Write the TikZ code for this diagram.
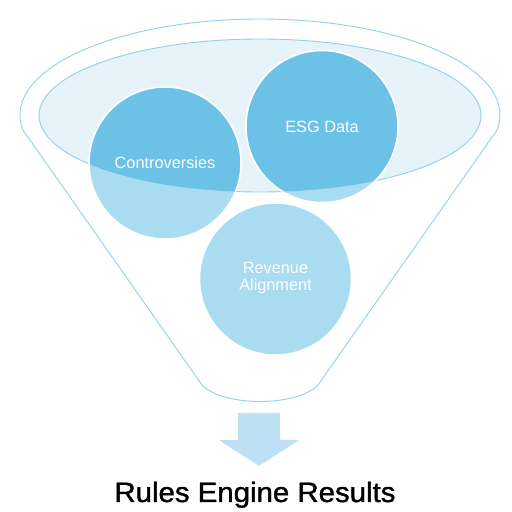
\documentclass[tikz,border=0pt]{standalone}
\usepackage{fontspec}
\setmainfont{Liberation Sans}
\newfontface\titlefont{Liberation Sans}[FakeBold=1.2]
\definecolor{outl}{HTML}{8FD0EC}
\definecolor{ellfill}{HTML}{E6F3FA}
\definecolor{cdark}{HTML}{6CC2E6}
\definecolor{clight}{HTML}{A9DBF1}
\definecolor{arrowc}{HTML}{BDE1F3}
\tikzset{
  circlab/.style={font=\fontsize{16.3}{18}\selectfont, text=white, align=center},
  bubble/.style={fill=#1, draw=white, line width=1.5pt},
}
\begin{document}
\begin{tikzpicture}[x=1pt,y=1pt]
\useasboundingbox (0,0) rectangle (512,512);
% funnel outline
\coordinate (fl) at ({260+240*cos(189)},{397+96*sin(189)});
\coordinate (blc) at (202,127);
\coordinate (brc) at (318,127);
\coordinate (fr) at ({260+240*cos(-9)},{397+96*sin(-9)});
\draw[outl, line width=0.9pt, line join=round] (fl) arc[start angle=189, end angle=-9, x radius=240, y radius=96]
  -- (brc) .. controls (296,105) and (224,105) .. (blc) -- cycle;
% inner ellipse
\path[fill=ellfill, draw=outl, line width=0.9pt] (260,396.5) ellipse[x radius=221, y radius=76.5];
% circles (light)
\coordinate (c1) at (165,349);
\coordinate (c2) at (322,385.5);
\coordinate (c3) at (275.5,233);
\path[bubble=clight] (c1) circle[radius=76];
\path[bubble=clight] (c2) circle[radius=76];
\path[bubble=clight] (c3) circle[radius=76];
% dark part inside ellipse
\begin{scope}
  \clip (260,396.5) ellipse[x radius=221, y radius=76.5];
  \path[bubble=cdark] (c1) circle[radius=76];
  \path[bubble=cdark] (c2) circle[radius=76];
\end{scope}
\node[circlab] (t1) at (c1) {Controversies};
\node[circlab] (t2) at (c2) {ESG Data};
\node[circlab, font=\fontsize{16.3}{17}\selectfont] (t3) at (275.5,233.5) {Revenue\\Alignment};
% arrow
\fill[arrowc] (238,99) -- (280,99) -- (280,72) -- (299,72) -- (259,46) -- (219,72) -- (238,72) -- cycle;
% title
\node[anchor=base, font=\titlefont\fontsize{28}{32}\selectfont, xscale=1.05, inner sep=0pt] (title) at (255,10) {Rules Engine Results};
\end{tikzpicture}
\end{document}
